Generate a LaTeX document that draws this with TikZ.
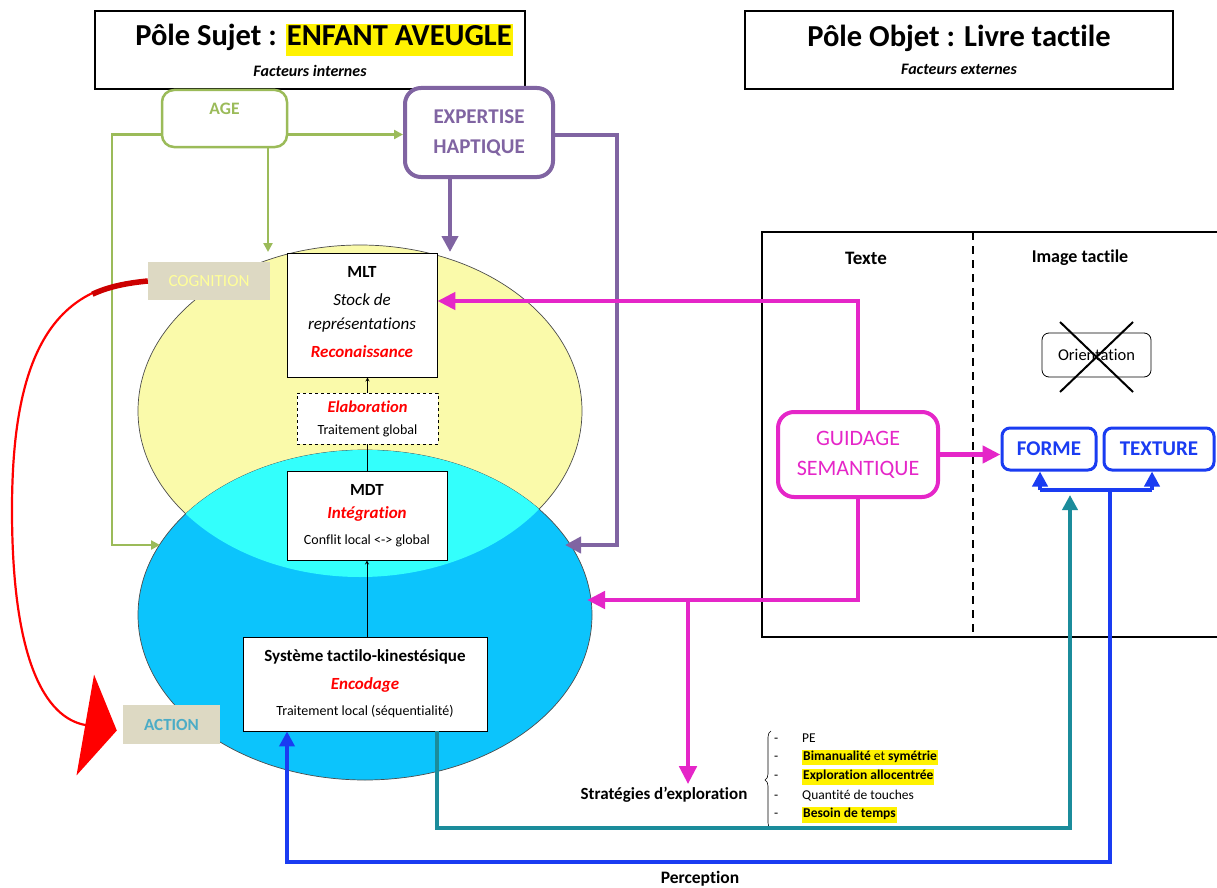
\documentclass[tikz,border=0pt]{standalone}
\usepackage{fontspec}
\setmainfont{Carlito}[Ligatures=NoCommon]
\usetikzlibrary{arrows.meta,decorations.pathreplacing}

\definecolor{agegreen}{HTML}{9BBB59}
\definecolor{hapviolet}{HTML}{8064A2}
\definecolor{guidrose}{HTML}{E526C8}
\definecolor{percbleu}{HTML}{1A3CF2}
\definecolor{stratteal}{HTML}{1B8C9B}
\definecolor{mltjaune}{HTML}{FAFAAA}
\definecolor{mdtbleu}{HTML}{0CC4FC}
\definecolor{mdtcyan}{HTML}{33FFFC}
\definecolor{cogfond}{HTML}{DDD9C3}
\definecolor{cogtexte}{HTML}{FFFF99}
\definecolor{acttexte}{HTML}{4BACC6}

\newcommand{\fsz}[1]{\fontsize{#1}{#1}\selectfont}
\newcommand{\enrouge}[1]{{\color{red}\bfseries\itshape #1}}
\newcommand{\surligne}[1]{{\setlength{\fboxsep}{1pt}\colorbox{yellow}{\strut #1}}}

\begin{document}
\begin{tikzpicture}[x=1pt,y=-1pt,
    every node/.style={inner sep=0pt},
    pole/.style={draw,line width=1.5pt,fill=white,minimum width=430pt,minimum height=78pt,align=center},
    facteur/.style={draw,fill=white,rounded corners=12pt,align=center},
    memo/.style={draw,fill=white,line width=0.8pt,align=center,font=\fsz{17}},
    etiq/.style={fill=cogfond,font=\fsz{17}},
    carte/.style={draw=percbleu,line width=3pt,rounded corners=8pt,fill=white,text=percbleu,font=\fsz{21}\bfseries},
    agel/.style={agegreen,line width=2.5pt,>={Triangle[length=9pt,width=9pt]}},
    hapl/.style={hapviolet,line width=4.5pt,>={Triangle[length=16pt,width=16pt]}},
    rosel/.style={guidrose,line width=4.5pt,>={Triangle[length=18pt,width=17pt]}},
    percl/.style={percbleu,line width=4.5pt,>={Triangle[length=15pt,width=15pt]}},
    teall/.style={stratteal,line width=4pt,>={Triangle[length=15pt,width=15pt]}},
    item/.style={anchor=west,font=\fsz{13.5}}]

\useasboundingbox (0,0) rectangle (1217,888);
\fill[white] (0,0) rectangle (1217,888);

% les deux memoires
\filldraw[fill=mltjaune,draw=black!70,line width=0.7pt] (360,411) ellipse [x radius=222, y radius=166];
\filldraw[fill=mdtbleu,draw=black!70,line width=0.7pt] (365,615) ellipse [x radius=227, y radius=165];
\begin{scope}
  \clip (360,411) ellipse [x radius=222, y radius=166];
  \fill[mdtcyan] (365,615) ellipse [x radius=227, y radius=165];
\end{scope}

% titres
\node[pole] (sujet) at (310,50) {{\fsz{30.5}\bfseries\hspace*{28pt}Pôle Sujet : \surligne{ENFANT AVEUGLE}}\\[8pt]{\fsz{16}\bfseries\itshape Facteurs internes}};
\node[pole,minimum width=428pt] (objet) at (959,50) {{\fsz{30.5}\bfseries Pôle Objet : Livre tactile}\\[11pt]{\fsz{16}\bfseries\itshape Facteurs externes}};

% facteurs internes
\node[facteur,draw=agegreen,line width=2.5pt,minimum width=125pt,text=agegreen,font=\fsz{17.5}\bfseries,
      inner ysep=12pt,text height=13pt,text depth=20pt] (age) at (224.5,118.5) {AGE};
\node[facteur,draw=hapviolet,line width=4pt,rounded corners=16pt,minimum width=148pt,minimum height=89pt,
      text=hapviolet,font=\fsz{21}\bfseries] (exp) at (479,132.5) {EXPERTISE\\[9pt]HAPTIQUE};

\node[etiq,minimum width=122pt,minimum height=38pt,text=cogtexte] (cog) at (209,281) {COGNITION};
\node[etiq,minimum width=97pt,minimum height=39pt,text=acttexte,font=\fsz{17}\bfseries] (act) at (171.5,724.5) {ACTION};

% boites de memoire
\node[memo,minimum width=150pt,minimum height=124pt] (mlt) at (362,315)
  {{\bfseries MLT}\\[11pt]{\itshape Stock de}\\[7pt]{\itshape représentations}\\[11pt]{\enrouge{Reconaissance}}\\[-10pt]\mbox{}};
\node[memo,dashed,font=\fsz{14},minimum width=141pt,minimum height=51pt] (elab) at (367.5,418.5)
  {{\fsz{16.5}\enrouge{Elaboration}}\\[8pt]Traitement global};
\node[memo,minimum width=160pt,minimum height=89pt] (mdt) at (367,515.5)
  {{\bfseries MDT}\\[6pt]{\enrouge{Intégration}}\\[9pt]{\fsz{14}Conflit local <-> global}};
\node[memo,minimum width=244pt,minimum height=94pt] (syst) at (365,684)
  {{\bfseries Système tactilo-kinestésique}\\[11pt]{\enrouge{Encodage}}\\[9pt]{\fsz{14}Traitement local (séquentialité)}};

\draw[->,>=stealth,line width=0.8pt] (elab.north) -- (elab.north |- mlt.south);
\draw[line width=0.8pt] (mdt.north) -- (mdt.north |- elab.south);
\draw[->,>=stealth,line width=0.8pt] (syst.north -| mdt.north) -- (mdt.south);

% livre tactile
\node[draw,line width=2pt,minimum width=460pt,minimum height=405pt] (livre) at (992,434.5) {};
\draw[line width=2pt,dash pattern=on 8pt off 6pt] (973,232) -- (973,637);
\node[font=\fsz{19}\bfseries] (texte) at (866,258) {Texte};
\node[font=\fsz{18}\bfseries] (image) at (1080,258) {Image tactile};
\node[draw,rounded corners=7pt,line width=0.8pt,minimum width=109pt,minimum height=44pt,font=\fsz{16.5}] (orient) at (1096.5,355) {Orientation};
\draw[line width=2pt] (1060,322) -- (1133,392);
\draw[line width=2pt] (1133,322) -- (1060,392);

\node[facteur,draw=guidrose,line width=4pt,rounded corners=16pt,minimum width=160pt,minimum height=85pt,
      text=guidrose,font=\fsz{22}] (guid) at (858,454.5) {GUIDAGE\\[8pt]SEMANTIQUE};
\node[carte,minimum width=94pt,minimum height=42pt] (forme) at (1049,449) {FORME};
\node[carte,minimum width=110pt,minimum height=42pt] (texture) at (1159,449) {TEXTURE};

% strategies
\node[fill=white,font=\fsz{17}\bfseries,inner xsep=4pt,inner ysep=3pt] (strat) at (664,795) {Stratégies d’exploration};
\draw[line width=0.6pt,decorate,decoration={brace,amplitude=6pt}] (771,829) -- (771,731);
\node[item] (pe) at (774,738) {\makebox[28pt][l]{-}PE};
\node[item] (bima) at (774,757.5) {\makebox[28pt][l]{-}\surligne{\bfseries Bimanualité \mdseries et \bfseries symétrie}};
\node[item] (allo) at (774,777) {\makebox[28pt][l]{-}\surligne{\bfseries Exploration allocentrée}};
\node[item] (touch) at (774,796) {\makebox[28pt][l]{-}Quantité de touches};
\node[item] (temps) at (774,815) {\makebox[28pt][l]{-}\surligne{\bfseries Besoin de temps}};
\node[font=\fsz{17.5}\bfseries] (perc) at (700,879) {Perception};

% connecteurs
\coordinate (agefin) at (160,545);
\coordinate (hapfin) at (565,545);
\coordinate (bordbleu) at (587,600);
\coordinate (embr) at (688,600);
\coordinate (fourche) at (1110,490);
\coordinate (barg) at (1040,490);
\coordinate (bard) at (1152,490);
\coordinate (tealfin) at (1070,495);

\draw[agel,->] ([yshift=-16pt]age.west) -| (112,545) -- (agefin);
\draw[agel,->] ([yshift=-16pt]age.east) -- ([yshift=-16pt]age.east -| exp.west);
\draw[agel,->] ([xshift=43.5pt]age.south) -- (268,252);

\draw[hapl,->] ([xshift=-29pt]exp.south) -- (450,252);
\draw[hapl,->] ([yshift=-2.5pt]exp.east) -| (617,545) -- (hapfin);

% cognition -> action
\draw[red,line width=2.2pt,-{Triangle[length=32pt,width=102pt]}]
  (cog.west) .. controls (40,283) and (12,380) .. (12,510) .. controls (12,660) and (45,718) .. ([xshift=-6pt,yshift=-6pt]act.west);
\draw[red!80!black,line width=5.5pt] (cog.west) .. controls (126.4,283) and (108,286.9) .. (92.4,294.2);

\draw[rosel,->] (guid.north) |- ([yshift=14pt]mlt.east);
\draw[rosel,->] (guid.east) -- (guid.east -| forme.west);
\draw[rosel,->] (guid.south) |- (bordbleu);
\draw[rosel,->] (embr) -- (embr |- strat.north);

\draw[teall,->] ([xshift=72pt]syst.south) |- (1070,828) -- (tealfin);
\draw[percl,->] (fourche) |- (287,862) -- ([xshift=-78pt]syst.south);
\draw[percl] (barg) -- (bard);
\draw[percl,->] (barg) -- (barg |- forme.south);
\draw[percl,->] (bard) -- (bard |- texture.south);

\end{tikzpicture}
\end{document}
